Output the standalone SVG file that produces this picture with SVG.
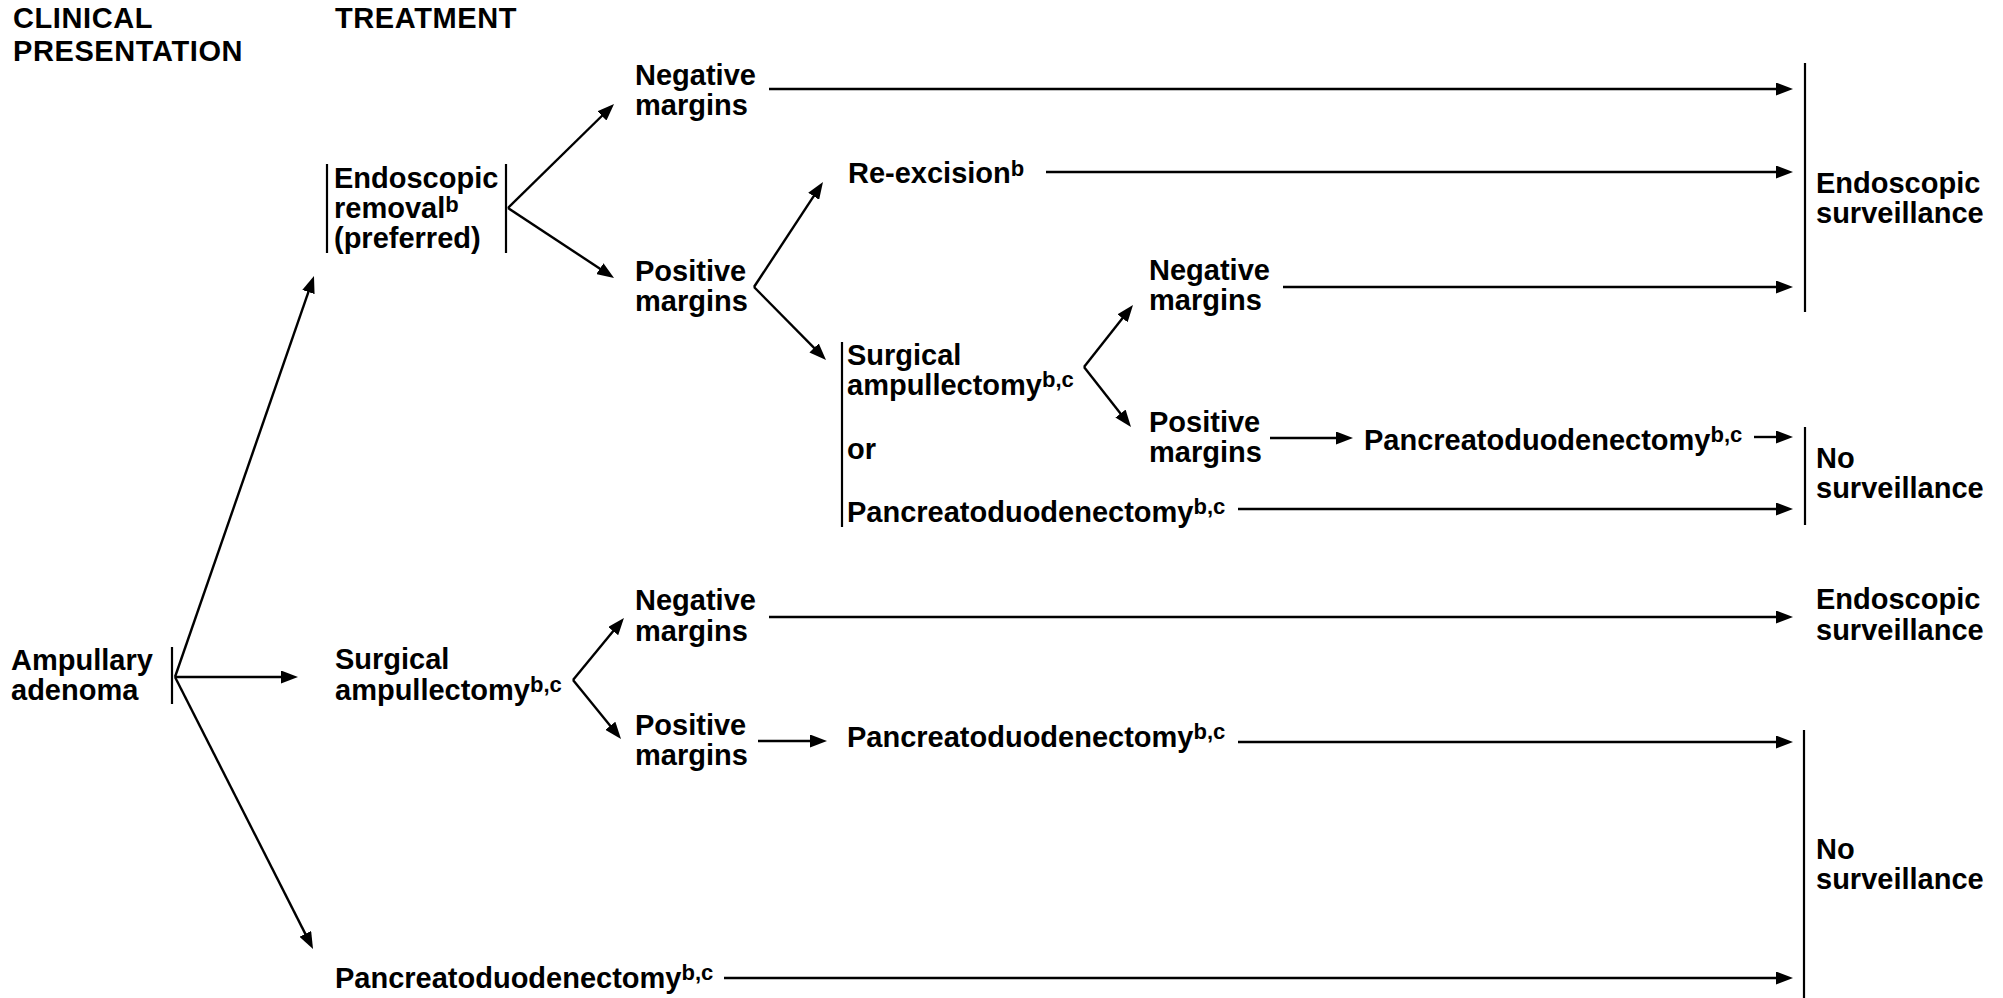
<svg xmlns="http://www.w3.org/2000/svg" width="2003" height="998" viewBox="0 0 2003 998">
<style>
text{font-family:"Liberation Sans",Arial,Helvetica,sans-serif;font-weight:bold;font-size:29px;fill:#000}
.hdr{letter-spacing:0.6px}
.sup{font-size:22px}
.bar{stroke:#000;stroke-width:2.2;fill:none}
.con line{stroke:#000;stroke-width:2.4;fill:none;marker-end:url(#ah)}
</style>
<defs>
<marker id="ah" markerUnits="userSpaceOnUse" markerWidth="17" markerHeight="13" refX="7" refY="6.5" orient="auto" viewBox="0 0 17 13">
<path d="M0,0 L17,6.5 L0,13 Z" fill="#000"/>
</marker>
</defs>
<rect width="2003" height="998" fill="#fff"/>

<g id="headers">
<text class="hdr" x="13" y="28">CLINICAL</text>
<text class="hdr" x="13" y="61">PRESENTATION</text>
<text class="hdr" x="335" y="28">TREATMENT</text>
</g>

<g id="ampullary-adenoma">
<text x="11" y="670">Ampullary</text>
<text x="11" y="700">adenoma</text>
<line class="bar" x1="172" y1="647" x2="172" y2="704"/>
</g>

<g id="endoscopic-removal">
<line class="bar" x1="327" y1="164" x2="327" y2="253"/>
<line class="bar" x1="506" y1="164" x2="506" y2="253"/>
<text x="334" y="188">Endoscopic</text>
<text x="334" y="218">removal<tspan class="sup" dy="-6">b</tspan></text>
<text x="334" y="248">(preferred)</text>
</g>

<g id="negative-margins-1">
<text x="635" y="85">Negative</text>
<text x="635" y="115">margins</text>
</g>

<g id="positive-margins-1">
<text x="635" y="281">Positive</text>
<text x="635" y="311">margins</text>
</g>

<g id="re-excision">
<text x="848" y="183">Re-excision<tspan class="sup" dy="-7">b</tspan></text>
</g>

<g id="surgical-or-pd">
<line class="bar" x1="842" y1="342" x2="842" y2="527"/>
<text x="847" y="365">Surgical</text>
<text x="847" y="395">ampullectomy<tspan class="sup" dy="-8">b,c</tspan></text>
<text x="847" y="459">or</text>
<text x="847" y="522">Pancreatoduodenectomy<tspan class="sup" dy="-8">b,c</tspan></text>
</g>

<g id="negative-margins-2">
<text x="1149" y="280">Negative</text>
<text x="1149" y="310">margins</text>
</g>

<g id="positive-margins-2">
<text x="1149" y="432">Positive</text>
<text x="1149" y="462">margins</text>
</g>

<g id="pd-2">
<text x="1364" y="450">Pancreatoduodenectomy<tspan class="sup" dy="-8">b,c</tspan></text>
</g>

<g id="endoscopic-surveillance-1">
<line class="bar" x1="1805" y1="63" x2="1805" y2="312"/>
<text x="1816" y="193">Endoscopic</text>
<text x="1816" y="223">surveillance</text>
</g>

<g id="no-surveillance-1">
<line class="bar" x1="1805" y1="427" x2="1805" y2="525"/>
<text x="1816" y="468">No</text>
<text x="1816" y="498">surveillance</text>
</g>

<g id="surgical-ampullectomy">
<text x="335" y="669">Surgical</text>
<text x="335" y="700">ampullectomy<tspan class="sup" dy="-8">b,c</tspan></text>
</g>

<g id="negative-margins-3">
<text x="635" y="610">Negative</text>
<text x="635" y="641">margins</text>
</g>

<g id="positive-margins-3">
<text x="635" y="735">Positive</text>
<text x="635" y="765">margins</text>
</g>

<g id="pd-3">
<text x="847" y="747">Pancreatoduodenectomy<tspan class="sup" dy="-8">b,c</tspan></text>
</g>

<g id="endoscopic-surveillance-2">
<text x="1816" y="609">Endoscopic</text>
<text x="1816" y="640">surveillance</text>
</g>

<g id="pd-4">
<text x="335" y="988">Pancreatoduodenectomy<tspan class="sup" dy="-8">b,c</tspan></text>
</g>

<g id="no-surveillance-2">
<line class="bar" x1="1804" y1="730" x2="1804" y2="998"/>
<text x="1816" y="859">No</text>
<text x="1816" y="889">surveillance</text>
</g>

<g id="connectors" class="con">
<line x1="175" y1="677" x2="310.7" y2="285.4"/>
<line x1="175" y1="677" x2="288" y2="677"/>
<line x1="175" y1="677" x2="308.5" y2="940.1"/>
<line x1="508" y1="208" x2="606.9" y2="111"/>
<line x1="508" y1="208" x2="605.7" y2="272.5"/>
<line x1="754" y1="287" x2="817.5" y2="190.4"/>
<line x1="754" y1="287" x2="819" y2="352.9"/>
<line x1="1084" y1="367" x2="1126.8" y2="312.8"/>
<line x1="1084" y1="367" x2="1124.8" y2="419.1"/>
<line x1="573" y1="680" x2="617.6" y2="625.7"/>
<line x1="573" y1="680" x2="614.7" y2="731.2"/>
<line x1="769" y1="89" x2="1783" y2="89"/>
<line x1="1046" y1="172" x2="1783" y2="172"/>
<line x1="1283" y1="287" x2="1783" y2="287"/>
<line x1="1270" y1="438" x2="1343" y2="438"/>
<line x1="1754" y1="437" x2="1783" y2="437"/>
<line x1="1238" y1="509" x2="1783" y2="509"/>
<line x1="769" y1="617" x2="1783" y2="617"/>
<line x1="758" y1="741" x2="817" y2="741"/>
<line x1="1238" y1="742" x2="1783" y2="742"/>
<line x1="724" y1="978" x2="1783" y2="978"/>
</g>
</svg>
